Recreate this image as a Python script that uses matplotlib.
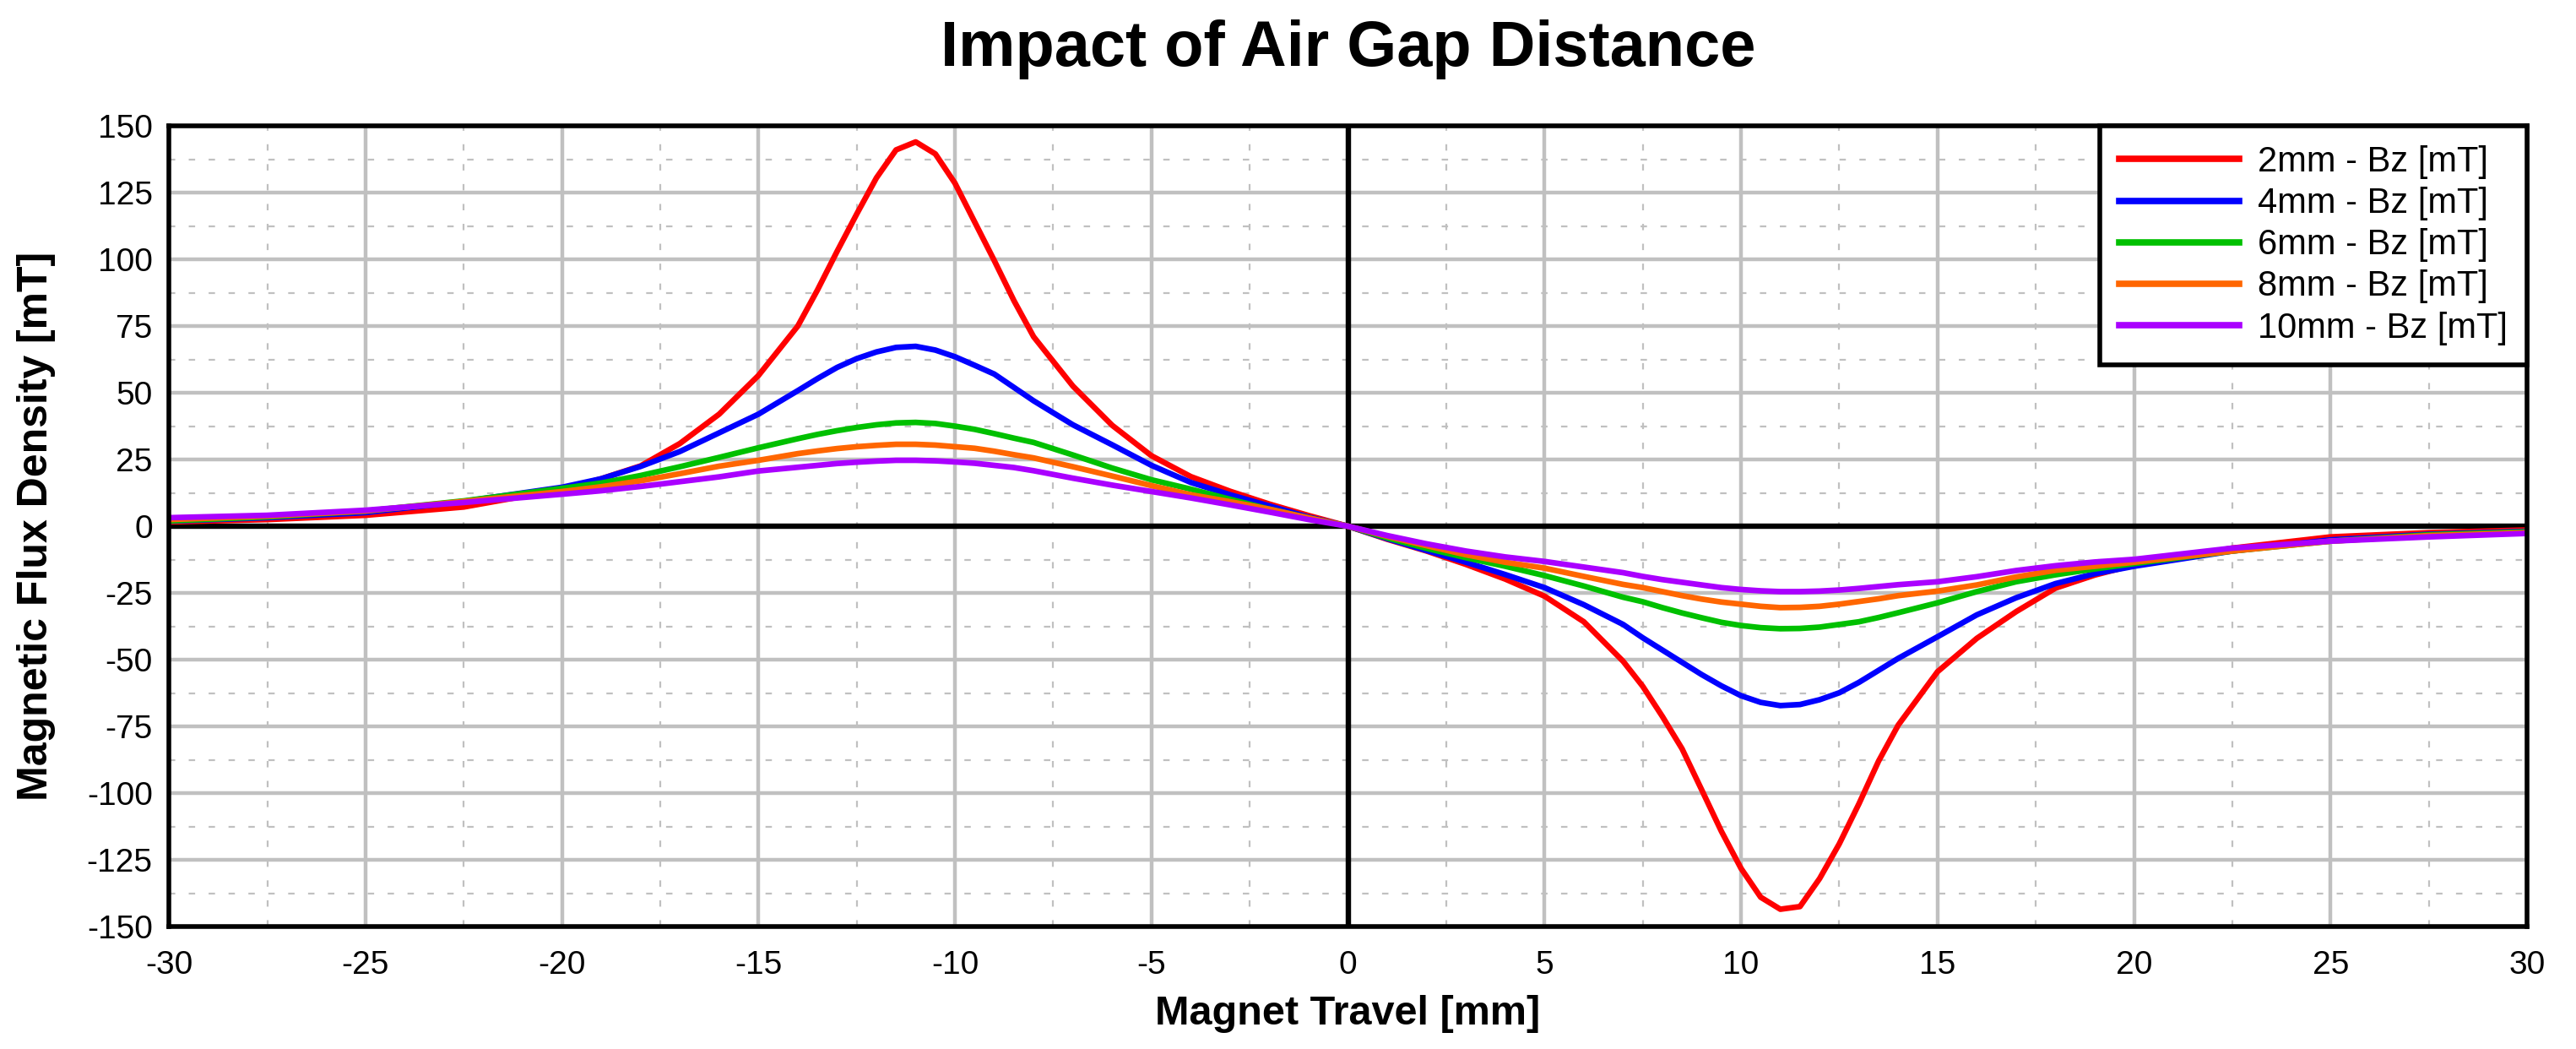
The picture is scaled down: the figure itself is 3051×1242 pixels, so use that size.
import matplotlib
matplotlib.use("Agg")
import matplotlib.pyplot as plt
from matplotlib.ticker import MultipleLocator

plt.rcParams.update({"font.family": ["Liberation Sans", "DejaVu Sans"],
                     "axes.unicode_minus": False})

# travel positions [mm]
TRAVEL = [-30, -27.5, -25, -22.5, -20, -19, -18, -17, -16, -15, -14, -13.5, -13,
          -12.5, -12, -11.5, -11, -10.5, -10, -9.5, -9, -8.5, -8, -7, -6, -5, -4,
          -3, -2, -1, 0,
          1, 2, 3, 4, 5, 6, 7, 7.5, 8, 8.5, 9, 9.5, 10, 10.5, 11, 11.5, 12, 12.5,
          13, 13.5, 14, 15, 16, 17, 18, 19, 20, 22.5, 25, 27.5, 30]

# Bz [mT] per air gap
BZ_2MM = [1.6, 2.5, 4.1, 7.2, 13.8, 17.8, 22.6, 31, 42, 56.5, 75, 88.5, 103, 117,
          130.5, 141, 144, 139.5, 128.5, 114, 99.5, 84.5, 71, 52.5, 37.8, 26.4, 18.6,
          13.1, 8.3, 4.0, 0,
          -4.9, -9.3, -14.3, -19.8, -26.2, -35.8, -50.6,
          -60, -71.3, -83.4, -98.8, -114.3, -128.2, -139, -143.5, -142.5, -132,
          -119, -104, -88, -74.5,
          -54.5, -42, -32, -23.2, -18.3, -14.5,
          -8.2, -4, -2.4, -1.4]
BZ_4MM = [1.9, 3.2, 5.1, 9.3, 14.6, 17.8, 22.4, 28, 35, 42, 50.8, 55.3, 59.5,
          62.8, 65.3, 67, 67.4, 66, 63.5, 60.3, 57, 52, 47, 38, 30.5, 22.8, 16.4,
          11.8, 7.6, 3.4, 0,
          -4.7, -9.1, -13.5, -18.1, -23.0, -29.4, -36.8,
          -41.8, -46.4, -51, -55.6, -59.8, -63.5, -66, -67.2, -66.8, -65,
          -62.4, -58.5, -54, -49.5,
          -41.4, -33.2, -26.8, -21.5, -17.8, -15,
          -9.3, -5.1, -3, -1.9]
BZ_6MM = [2, 3.5, 5.7, 9.5, 14.2, 16.2, 19, 22.3, 25.8, 29.4, 32.8, 34.4, 35.8,
          37, 38, 38.7, 38.9, 38.5, 37.5, 36.3, 34.7, 33, 31.4, 26.7, 21.8, 17.4,
          13.9, 10.1, 6.4, 3.1, 0,
          -4.4, -8.3, -11.8, -15, -18.5, -22.4, -26.6,
          -28.3, -30.5, -32.5, -34.3, -36, -37.2, -38, -38.4, -38.3, -37.8,
          -36.8, -35.8, -34.2, -32.4,
          -28.7, -24.5, -20.8, -18.2, -16, -14,
          -9.3, -5.6, -3.2, -2.1]
BZ_8MM = [2.5, 3.8, 5.7, 9.3, 13, 14.8, 17, 19.7, 22.5, 24.7, 27.2, 28.2, 29.1,
          29.8, 30.3, 30.7, 30.7, 30.4, 29.8, 29.2, 28.1, 26.8, 25.6, 22.3, 18.8,
          15.2, 11.8, 9.2, 6.4, 3.1, 0,
          -3.8, -7.3, -10.7, -13.5, -15.7, -18.8, -21.8,
          -23, -24.5, -26, -27.3, -28.4, -29.2, -30, -30.5, -30.4, -30,
          -29.2, -28.2, -27.2, -26,
          -24.3, -22, -19, -16.5, -15, -13.5,
          -9.3, -5.6, -3.5, -2.4]
BZ_10MM = [3.2, 4.1, 6, 8.9, 12, 13.3, 14.9, 16.7, 18.5, 20.7, 22.1, 22.8, 23.5,
           24, 24.4, 24.7, 24.7, 24.5, 24.1, 23.6, 22.8, 22, 20.8, 18, 15.4, 13,
           10.6, 8, 5.3, 2.5, 0,
           -3.5, -6.6, -9.3, -11.5, -13.2, -15.3, -17.4,
           -18.8, -20, -21, -22, -23, -23.7, -24.2, -24.5, -24.5, -24.3,
           -23.9, -23.3, -22.6, -21.9,
           -20.8, -18.9, -16.6, -14.8, -13.4, -12.4,
           -8.2, -5.6, -4, -2.7]

LABELS = ["2mm - Bz [mT]", "4mm - Bz [mT]", "6mm - Bz [mT]",
          "8mm - Bz [mT]", "10mm - Bz [mT]"]
COLORS = ["#ff0000", "#0000ff", "#00c000", "#ff6600", "#aa00ff"]
SERIES = [BZ_2MM, BZ_4MM, BZ_6MM, BZ_8MM, BZ_10MM]

AX_RECT = [0.0656, 0.1167, 0.9154, 0.7633]

fig = plt.figure(figsize=(30.51, 12.42), dpi=100)
ax = fig.add_axes(AX_RECT)

for vals, lab, col in zip(SERIES, LABELS, COLORS):
    ax.plot(TRAVEL, vals, color=col, lw=4.8, label=lab, zorder=3,
            solid_joinstyle="round")

ax.axhline(0, color="black", lw=4.6, zorder=2)
ax.axvline(0, color="black", lw=4.6, zorder=2)

ax.set_xlim(-30, 30)
ax.set_ylim(-150, 150)
ax.xaxis.set_major_locator(MultipleLocator(5))
ax.xaxis.set_minor_locator(MultipleLocator(2.5))
ax.yaxis.set_major_locator(MultipleLocator(25))
ax.yaxis.set_minor_locator(MultipleLocator(12.5))
ax.grid(which="major", color="#c0c0c0", lw=3.2, zorder=0)
ax.grid(which="minor", color="#c0c0c0", lw=1.6, linestyle=(0, (3.4, 7.2)), zorder=0)
ax.set_axisbelow(True)

ax.tick_params(which="both", length=0)
ax.tick_params(axis="x", labelsize=28, pad=20)
ax.tick_params(axis="y", labelsize=28, pad=14)
for s in ax.spines.values():
    s.set_linewidth(4.0)
    s.set_color("black")
    s.set_zorder(4)

ax.set_xlabel("Magnet Travel [mm]", fontsize=35, fontweight="bold", va="center")
ax.xaxis.set_label_coords(0.5, -0.1087)
ax.set_ylabel("Magnetic Flux Density [mT]", fontsize=36, fontweight="bold", va="center")
ax.yaxis.set_label_coords(-0.0562, 0.5)

# title is centred over the plot area, not the figure
fig.text(AX_RECT[0] + AX_RECT[2] / 2, 0.953, "Impact of Air Gap Distance",
         fontsize=54.5, fontweight="bold", ha="center", va="center")

leg = ax.legend(loc="upper right", fontsize=30, borderaxespad=0, fancybox=False,
                framealpha=1, edgecolor="black", handlelength=3.4,
                handletextpad=0.53, labelspacing=0.22, borderpad=0.55)
leg.get_frame().set_linewidth(4.0)
leg.set_zorder(5)
for h in leg.get_lines():
    h.set_linewidth(5.5)

fig.savefig("out.png", dpi=100)
